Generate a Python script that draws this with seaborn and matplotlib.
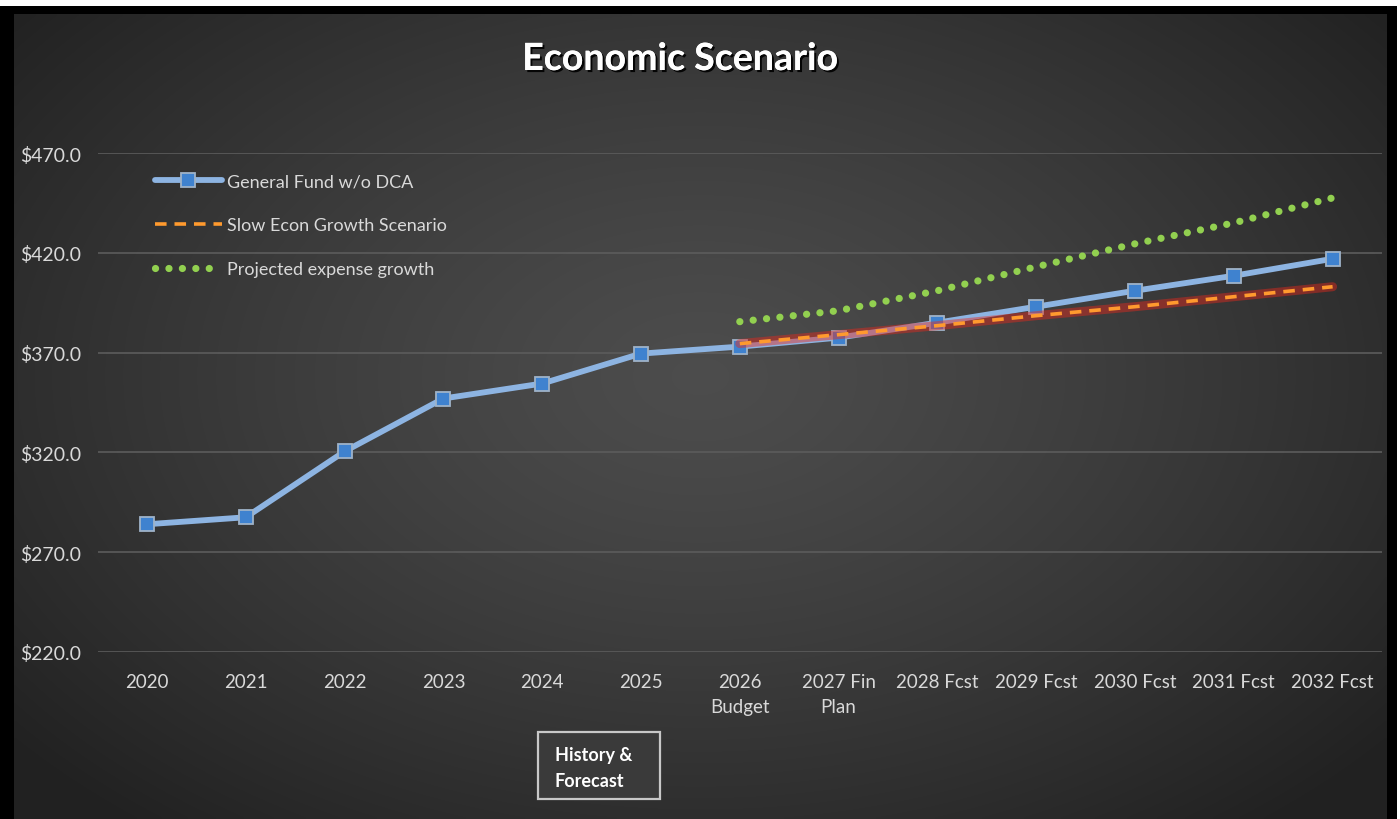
import numpy as np
import pandas as pd
import matplotlib
matplotlib.use("Agg")
import matplotlib.pyplot as plt
import matplotlib.patheffects as pe
from matplotlib.patches import Rectangle
import seaborn as sns

# ---------------- data ----------------
categories = ["2020", "2021", "2022", "2023", "2024", "2025", "2026\nBudget",
              "2027 Fin\nPlan", "2028 Fcst", "2029 Fcst", "2030 Fcst",
              "2031 Fcst", "2032 Fcst"]
general_fund = [284.0, 287.5, 320.5, 347.0, 354.5, 369.5, 373.0,
                377.5, 385.0, 393.0, 401.0, 408.5, 417.0]
forecast_categories = categories[6:]
slow_growth = [374.5, 379.0, 383.5, 388.5, 393.0, 398.0, 403.0]
expense_growth = [385.5, 391.0, 401.0, 413.0, 424.5, 435.0, 447.5]
y_ticks = [220, 270, 320, 370, 420, 470]
title = "Economic Scenario"
labels = ["General Fund w/o DCA", "Slow Econ Growth Scenario", "Projected expense growth"]

FONT = "Lato"
sns.set_theme(style="dark")
plt.rcParams["font.family"] = [FONT, "DejaVu Sans"]

W, H = 1400, 820
fig = plt.figure(figsize=(W / 100, H / 100), dpi=100)
fig.patch.set_facecolor("black")

# background gradient panel
bx0, bx1, by0, by1 = 14, 1387, 15, 820
bg = fig.add_axes([bx0 / W, 0, (bx1 - bx0) / W, (by1 - by0) / H])
gx = np.linspace(-1, 1, 400)
gy = np.linspace(-1, 1, 240)
GX, GY = np.meshgrid(gx, gy)
r = np.sqrt((GX * 1.0) ** 2 + ((GY + 0.1) * 0.9) ** 2)
val = 0.30 - 0.12 * np.clip(r, 0, 1.3) ** 1.3
img = np.dstack([val, val, val])
bg.imshow(img, aspect="auto", extent=[0, 1, 0, 1], interpolation="bilinear")
bg.set_axis_off()

# white strips at top and right edge
fig.patches.append(Rectangle((0, 1 - 7 / H), 1, 7 / H, transform=fig.transFigure,
                             facecolor="white", edgecolor="none", zorder=0))
fig.patches.append(Rectangle((1397 / W, 0), 3 / W, 1, transform=fig.transFigure,
                             facecolor="white", edgecolor="none", zorder=0))

# main axes
left_px, right_px, top_px, bot_px = 97.6, 1382, 154, 653
ax = fig.add_axes([left_px / W, 1 - bot_px / H, (right_px - left_px) / W, (bot_px - top_px) / H])
ax.set_facecolor("none")

x_all = np.arange(len(categories))
df_gf = pd.DataFrame({"x": x_all, "v": general_fund})
x_fc = np.arange(len(categories) - len(forecast_categories), len(categories))
df_slow = pd.DataFrame({"x": x_fc, "v": slow_growth})
df_exp = pd.DataFrame({"x": x_fc, "v": expense_growth})

sns.lineplot(data=df_gf, x="x", y="v", ax=ax, color="#8db4e2", linewidth=4.2,
             marker="s", markersize=10, markerfacecolor="#3f82cf",
             markeredgecolor="#9fb3c9", markeredgewidth=1.3,
             estimator=None, errorbar=None, label=labels[0], zorder=3)
sns.lineplot(data=df_slow, x="x", y="v", ax=ax, color="#e8281c", linewidth=6.5, alpha=0.45,
             estimator=None, errorbar=None, legend=False, zorder=4,
             solid_capstyle="round")
sns.lineplot(data=df_slow, x="x", y="v", ax=ax, color="#ff9a2e", linewidth=2.6,
             linestyle=(0, (3.2, 2.2)), estimator=None, errorbar=None,
             label=labels[1], zorder=5)
sns.lineplot(data=df_exp, x="x", y="v", ax=ax, color="#92d050", linewidth=5.2,
             linestyle=(0, (0.01, 1.85)), dash_capstyle="round",
             estimator=None, errorbar=None, label=labels[2], zorder=6)

ax.set_xlim(-0.5, len(categories) - 0.5)
ax.set_ylim(min(y_ticks), max(y_ticks))
ax.set_yticks(y_ticks)
ax.set_yticklabels([f"${v:.1f}" for v in y_ticks])
ax.set_xticks(x_all)
ax.set_xticklabels(categories)
ax.set_xlabel("")
ax.set_ylabel("")
for s in ax.spines.values():
    s.set_visible(False)
ax.grid(axis="y", color="#5c5c5c", linewidth=1.2)
ax.grid(axis="x", visible=False)
ax.tick_params(axis="both", length=0, colors="#d9d9d9")
ax.tick_params(axis="y", pad=12, labelsize=14)
ax.tick_params(axis="x", pad=15, labelsize=13.5)
for lab in ax.get_xticklabels():
    lab.set_linespacing(1.6)
    lab.set_verticalalignment("top")

# legend
handles, lbls = ax.get_legend_handles_labels()
leg = ax.legend(handles, lbls, loc="upper left", frameon=False,
                bbox_to_anchor=(155 / W, 1 - 174 / H), bbox_transform=fig.transFigure,
                handlelength=3.7, handletextpad=0.3, labelspacing=1.55,
                borderpad=0, borderaxespad=0, fontsize=13)
for t in leg.get_texts():
    t.set_color("#d9d9d9")

# title
fig.text(680 / W, 1 - 60 / H, title, ha="center", va="center", color="white",
         fontsize=27, fontweight="bold",
         path_effects=[pe.withSimplePatchShadow(offset=(1.5, -1.5), shadow_rgbFace="black", alpha=0.9),
                       pe.Normal()])

# History & Forecast box
fig.patches.append(Rectangle((538 / W, 1 - 800 / H), 122 / W, 67 / H, transform=fig.transFigure,
                             facecolor="#3a3a3a", edgecolor="#c8c8c8", linewidth=1.6, zorder=5))
fig.text(555 / W, 1 - 756 / H, "History &", ha="left", va="center", color="white",
         fontsize=13, fontweight="bold", zorder=6)
fig.text(555 / W, 1 - 782 / H, "Forecast", ha="left", va="center", color="white",
         fontsize=13, fontweight="bold", zorder=6)

fig.savefig("out.png", dpi=100, facecolor=fig.get_facecolor())
